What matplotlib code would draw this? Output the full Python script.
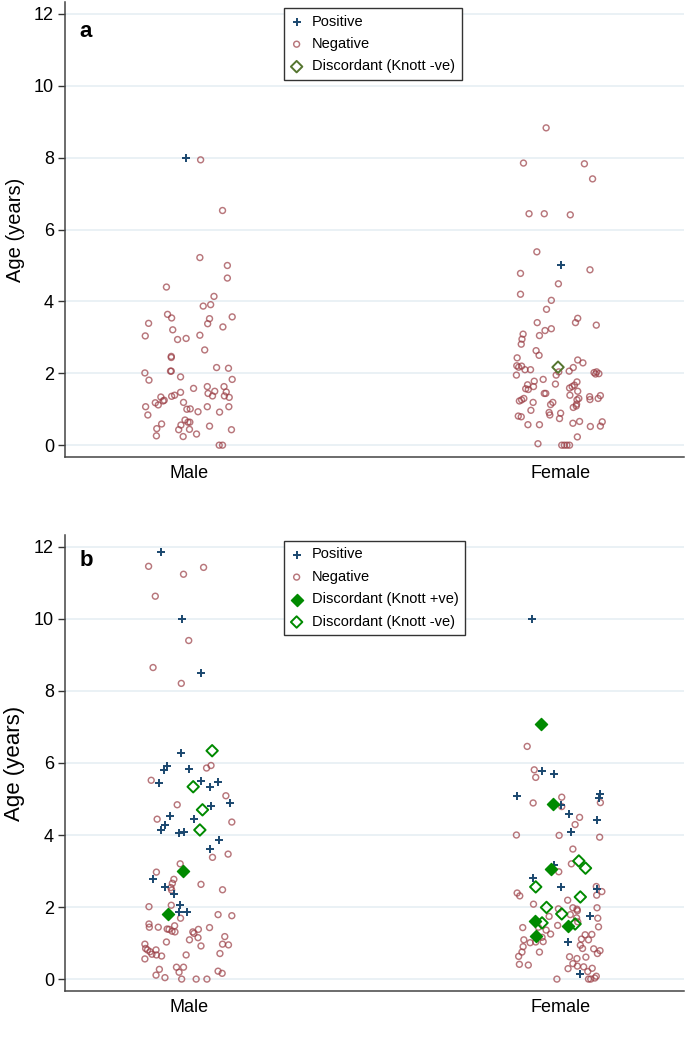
import matplotlib.pyplot as plt

plt.rcParams['font.family'] = ['Liberation Sans', 'DejaVu Sans']

groups = ['Male', 'Female']
yticks = [0, 2, 4, 6, 8, 10, 12]

# (age in years, horizontal jitter)
# panel a
a_male_pos = [(8.0, -0.006)]
a_male_neg = [(7.94, 0.032), (6.53, 0.091), (5.22, 0.030), (5.0, 0.104), (4.65, 0.104), (4.40, -0.060),
              (4.14, 0.068), (3.87, 0.039), (3.91, 0.059), (3.64, -0.057), (3.54, -0.046), (3.39, -0.108),
              (3.52, 0.056), (3.38, 0.051), (3.57, 0.117), (3.29, 0.092), (3.21, -0.043), (3.04, -0.117),
              (3.06, 0.030), (2.94, -0.030), (2.97, -0.007), (2.65, 0.043), (2.47, -0.047), (2.44, -0.047),
              (2.06, -0.049), (2.06, -0.047), (2.16, 0.075), (2.14, 0.107), (2.01, -0.118), (1.81, -0.107),
              (1.90, -0.022), (1.83, 0.117), (1.58, 0.013), (1.63, 0.050), (1.63, 0.095), (1.48, 0.101),
              (1.44, 0.052), (1.50, 0.070), (1.37, 0.064), (1.37, 0.096), (1.33, 0.109), (1.47, -0.022),
              (1.36, -0.046), (1.39, -0.038), (1.34, -0.075), (1.25, -0.066), (1.23, -0.069), (1.18, -0.090),
              (1.12, -0.082), (1.07, -0.116), (1.19, -0.014), (1.00, -0.005), (1.01, 0.004), (1.07, 0.050),
              (1.07, 0.108), (0.93, 0.025), (0.92, 0.083), (0.84, -0.110), (0.59, -0.073), (0.70, -0.010),
              (0.64, -0.002), (0.64, 0.003), (0.56, -0.021), (0.53, 0.056), (0.46, -0.086), (0.43, -0.027),
              (0.44, 0.002), (0.43, 0.115), (0.31, 0.021), (0.26, -0.087), (0.24, -0.015), (0.0, 0.082),
              (0.0, 0.091)]
a_female_pos = [(5.0, 0.003)]
a_female_neg = [(8.83, -0.038), (7.85, -0.099), (7.83, 0.065), (7.41, 0.087), (6.44, -0.084), (6.44, -0.043),
                (6.41, 0.027), (5.38, -0.063), (4.88, 0.080), (4.78, -0.107), (4.49, -0.005), (4.20, -0.107),
                (4.03, -0.024), (3.78, -0.037), (3.53, 0.047), (3.41, 0.041), (3.34, 0.097), (3.41, -0.062),
                (3.24, -0.024), (3.19, -0.041), (3.05, -0.056), (3.09, -0.100), (2.95, -0.103), (2.81, -0.105),
                (2.63, -0.065), (2.50, -0.057), (2.43, -0.116), (2.37, 0.047), (2.29, 0.061), (2.21, -0.117),
                (2.20, -0.104), (2.17, -0.112), (2.10, -0.095), (2.10, -0.080), (1.95, -0.118), (2.16, 0.035),
                (2.06, 0.024), (1.95, -0.011), (2.04, -0.004), (2.02, 0.091), (2.04, 0.098), (1.99, 0.104),
                (1.98, 0.095), (1.78, -0.070), (1.83, -0.046), (1.70, -0.013), (1.76, 0.045), (1.68, -0.088),
                (1.57, -0.093), (1.63, -0.072), (1.55, -0.086), (1.63, 0.032), (1.59, 0.025), (1.67, 0.038),
                (1.50, 0.047), (1.44, -0.043), (1.44, -0.039), (1.39, 0.026), (1.30, 0.050), (1.26, 0.045),
                (1.35, 0.079), (1.27, 0.080), (1.30, 0.102), (1.38, 0.108), (1.23, -0.110), (1.26, -0.104),
                (1.30, -0.098), (1.19, -0.073), (1.13, -0.026), (1.19, -0.020), (1.14, 0.044), (1.05, 0.035),
                (1.09, 0.043), (0.97, -0.079), (0.91, -0.030), (0.84, -0.028), (0.89, 0.001), (0.74, -0.002),
                (0.81, -0.113), (0.79, -0.105), (0.57, -0.087), (0.57, -0.056), (0.61, 0.034), (0.66, 0.052),
                (0.52, 0.081), (0.53, 0.108), (0.65, 0.113), (0.23, 0.046), (0.04, -0.060), (0.0, 0.004),
                (0.0, 0.011), (0.0, 0.018), (0.0, 0.025)]
a_female_disc_neg = [(2.17, -0.006)]

# panel b
b_male_pos = [(11.87, -0.074), (10.0, -0.018), (8.51, 0.033), (6.28, -0.021), (5.81, -0.067), (5.93, -0.058),
              (5.83, 0.002), (5.45, -0.081), (5.50, 0.032), (5.34, 0.056), (5.47, 0.079), (4.89, 0.112),
              (4.80, 0.060), (4.53, -0.051), (4.45, 0.015), (4.28, -0.065), (4.14, -0.075), (4.06, -0.027),
              (4.09, -0.013), (3.85, 0.082), (3.61, 0.056), (2.79, -0.097), (2.56, -0.065), (2.36, -0.039),
              (2.06, -0.024), (1.85, -0.025), (1.87, -0.004)]
b_male_neg = [(11.46, -0.108), (11.24, -0.014), (11.43, 0.040), (10.63, -0.090), (9.40, 0.0), (8.65, -0.096),
              (8.21, -0.020), (5.86, 0.048), (5.93, 0.060), (5.52, -0.101), (5.09, 0.100), (4.84, -0.031),
              (4.44, -0.085), (4.36, 0.116), (3.38, 0.064), (3.47, 0.106), (3.20, -0.023), (2.97, -0.087),
              (2.77, -0.040), (2.66, -0.044), (2.63, 0.033), (2.54, -0.048), (2.47, -0.046), (2.48, 0.091),
              (2.01, -0.107), (2.05, -0.047), (1.69, -0.022), (1.79, 0.079), (1.76, 0.116), (1.53, -0.107),
              (1.44, -0.106), (1.44, -0.082), (1.39, -0.058), (1.38, -0.053), (1.48, -0.038), (1.31, -0.037),
              (1.33, -0.045), (1.31, 0.011), (1.27, 0.014), (1.38, 0.026), (1.43, 0.056), (1.09, 0.002),
              (1.15, 0.025), (1.18, 0.097), (1.03, -0.060), (0.97, 0.091), (0.95, 0.107), (0.92, 0.033),
              (0.97, -0.118), (0.85, -0.116), (0.81, -0.111), (0.76, -0.104), (0.81, -0.088), (0.69, -0.099),
              (0.67, -0.087), (0.64, -0.073), (0.56, -0.118), (0.67, -0.007), (0.71, 0.084), (0.33, -0.033),
              (0.33, -0.014), (0.19, -0.026), (0.27, -0.079), (0.11, -0.088), (0.22, 0.079), (0.16, 0.090),
              (0.04, -0.064), (0.0, -0.019), (0.0, 0.020), (0.0, 0.049)]
b_male_disc_pos = [(3.01, -0.016), (1.81, -0.056)]
b_male_disc_neg = [(6.34, 0.063), (5.34, 0.012), (4.70, 0.037), (4.14, 0.030)]

b_female_pos = [(10.0, -0.076), (5.79, -0.050), (5.69, -0.016), (5.07, -0.117), (4.83, 0.002), (5.13, 0.108),
                (5.02, 0.104), (4.57, 0.024), (4.43, 0.098), (4.09, 0.029), (3.17, -0.018), (2.81, -0.074),
                (2.55, 0.001), (2.49, 0.098), (1.74, 0.079), (1.03, 0.022), (0.14, 0.052)]
b_female_neg = [(6.46, -0.089), (5.81, -0.070), (5.60, -0.066), (4.89, -0.073), (5.05, 0.004), (4.79, 0.004),
                (4.90, 0.108), (4.49, 0.052), (4.29, 0.040), (4.0, -0.118), (3.99, -0.003), (3.94, 0.106),
                (3.61, 0.034), (3.20, 0.030), (2.98, -0.004), (2.57, 0.097), (2.33, 0.098), (2.43, 0.112),
                (2.39, -0.116), (2.31, -0.109), (2.08, -0.072), (2.19, 0.020), (1.98, 0.034), (1.94, 0.045),
                (1.90, 0.046), (1.98, 0.099), (1.95, -0.005), (1.74, -0.030), (1.79, 0.027), (1.70, 0.044),
                (1.69, 0.101), (1.43, -0.101), (1.44, -0.059), (1.36, -0.038), (1.25, -0.026), (1.49, -0.007),
                (1.59, 0.047), (1.23, 0.067), (1.24, 0.085), (1.11, 0.057), (1.09, 0.076), (1.45, 0.103),
                (1.16, -0.049), (1.04, -0.046), (1.09, -0.098), (1.01, -0.081), (1.03, -0.066), (0.75, -0.056),
                (0.90, -0.100), (0.75, -0.103), (0.63, -0.112), (0.41, -0.110), (0.39, -0.086), (0.94, 0.054),
                (0.85, 0.060), (0.84, 0.090), (0.79, 0.107), (0.71, 0.100), (0.62, 0.025), (0.57, 0.045),
                (0.61, 0.069), (0.43, 0.034), (0.36, 0.046), (0.29, 0.021), (0.34, 0.063), (0.30, 0.086),
                (0.21, 0.074), (0.08, 0.097), (0.0, -0.009), (0.0, 0.076), (0.0, 0.082), (0.03, 0.093)]
b_female_disc_pos = [(7.08, -0.053), (4.86, -0.020), (3.07, -0.024), (1.61, -0.068), (1.47, 0.021),
                     (1.21, -0.065)]
b_female_disc_neg = [(3.28, 0.050), (3.08, 0.068), (2.56, -0.066), (2.28, 0.054), (1.99, -0.037),
                     (1.81, 0.004), (1.56, -0.049), (1.53, 0.040)]

navy = '#1a476f'
maroon = '#9a3d44'
olive = '#55752f'
green = '#008a00'


def pts(data, pos):
    return [pos + j for a, j in data], [a for a, j in data]


def draw(ax, sets, letter, ybase, ylab_size):
    for data, pos, kind, col, lab in sets:
        if not data:
            continue
        x, y = pts(data, pos)
        if kind == 'plus':
            ax.scatter(x, y, marker='+', s=40, linewidths=1.4, color=col, label=lab, zorder=3)
        elif kind == 'circle':
            ax.scatter(x, y, marker='o', s=18, facecolors='none', edgecolors=col, linewidths=1.05,
                       alpha=0.7, label=lab, zorder=2)
        elif kind == 'dfill':
            ax.scatter(x, y, marker='D', s=38, color=col, label=lab, zorder=4)
        else:
            ax.scatter(x, y, marker='D', s=34, facecolors='none', edgecolors=col, linewidths=1.4,
                       label=lab, zorder=4)
    ax.set_xlim(0.667, 2.333)
    ax.set_ylim(-0.33, 12.33)
    ax.set_yticks(yticks)
    ax.set_xticks([1, 2])
    ax.set_xticklabels(groups)
    ax.tick_params(axis='y', labelsize=13, length=5, width=1, color='#333333', pad=3)
    ax.tick_params(axis='x', labelsize=13, length=0, pad=6)
    ax.grid(axis='y', color='#e4edf2', linewidth=1.1)
    ax.set_axisbelow(True)
    for s in ['top', 'right']:
        ax.spines[s].set_visible(False)
    for s in ['left', 'bottom']:
        ax.spines[s].set_color('#444444')
        ax.spines[s].set_linewidth(1.1)
    ax.set_ylabel('Age (years)', fontsize=ylab_size, labelpad=6)
    ax.text(0.023, ybase, letter, transform=ax.transAxes, fontsize=16, fontweight='bold', va='baseline')
    # legend in the order of the reference
    handles, labels = ax.get_legend_handles_labels()
    order = ['Positive', 'Negative', 'Discordant (Knott +ve)', 'Discordant (Knott -ve)']
    hl = {l: h for h, l in zip(handles, labels)}
    keys = [k for k in order if k in hl]
    leg = ax.legend([hl[k] for k in keys], keys, loc='upper left', bbox_to_anchor=(0.353, 0.987),
                    borderaxespad=0, fontsize=10.5, frameon=True, fancybox=False, framealpha=1,
                    edgecolor='#333333', handlelength=0.9, handletextpad=0.6, labelspacing=0.58,
                    borderpad=0.45)
    leg.get_frame().set_linewidth(1.0)


fig = plt.figure(figsize=(6.85, 10.38), dpi=100)
ax_a = fig.add_axes([0.0949, 0.5597, 0.9036, 0.4383])
ax_b = fig.add_axes([0.0949, 0.0453, 0.9036, 0.4393])

draw(ax_a, [
    (a_male_pos, 1, 'plus', navy, 'Positive'),
    (a_female_pos, 2, 'plus', navy, None),
    (a_male_neg, 1, 'circle', maroon, 'Negative'),
    (a_female_neg, 2, 'circle', maroon, None),
    (a_female_disc_neg, 2, 'dhollow', olive, 'Discordant (Knott -ve)'),
], 'a', 0.923, 14.5)

draw(ax_b, [
    (b_male_pos, 1, 'plus', navy, 'Positive'),
    (b_female_pos, 2, 'plus', navy, None),
    (b_male_neg, 1, 'circle', maroon, 'Negative'),
    (b_female_neg, 2, 'circle', maroon, None),
    (b_male_disc_pos, 1, 'dfill', green, 'Discordant (Knott +ve)'),
    (b_female_disc_pos, 2, 'dfill', green, None),
    (b_male_disc_neg, 1, 'dhollow', green, 'Discordant (Knott -ve)'),
    (b_female_disc_neg, 2, 'dhollow', green, None),
], 'b', 0.932, 16)

fig.savefig('out.png', dpi=100)
